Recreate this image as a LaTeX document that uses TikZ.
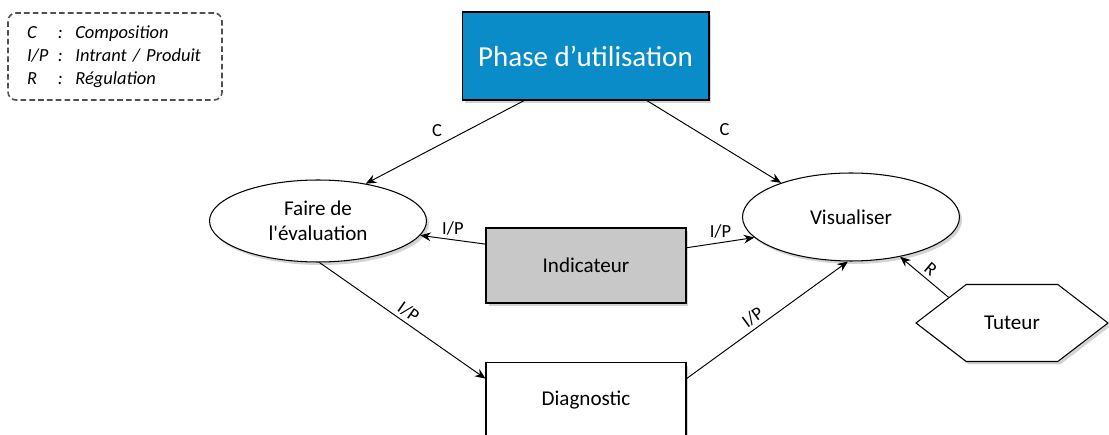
\documentclass[tikz,border=0pt]{standalone}
\usepackage{fontspec}
\setmainfont{Carlito}
\usetikzlibrary{arrows.meta,shapes.geometric,shapes.symbols,shadows}
\definecolor{phaseblue}{RGB}{10,140,201}
\definecolor{indgray}{RGB}{200,200,200}
\definecolor{legendgray}{RGB}{80,80,80}

\tikzset{
  shade/.style={drop shadow={opacity=0.35,shadow xshift=0.5mm,shadow yshift=-0.6mm}},
  box/.style={draw,line width=0.6pt,fill=white,shade,minimum width=4cm,minimum height=1.5cm,font=\fontsize{12}{14}\selectfont},
  oval/.style={ellipse,draw,line width=0.6pt,fill=white,shade,minimum width=4.34cm,inner sep=0pt,align=center,font=\fontsize{12}{14.5}\selectfont},
  hexa/.style={shape=signal,signal to=west and east,signal pointer angle=75,draw,line width=0.6pt,fill=white,shade,
    minimum width=3.84cm,minimum height=1.54cm,inner sep=0pt,font=\fontsize{12}{14}\selectfont},
  link/.style={-{Stealth[length=6pt,width=5pt,inset=2pt]},line width=0.55pt},
  lbl/.style={font=\fontsize{10.5}{12}\selectfont,inner sep=2pt}
}

\begin{document}
\begin{tikzpicture}[x=0.02cm,y=-0.02cm]
\useasboundingbox (0,0) rectangle (1109,435);

% legende
\node[draw=legendgray,line width=0.9pt,dash pattern=on 3.2pt off 1.8pt,rounded corners=4.5pt,
  minimum width=4.28cm,minimum height=1.74cm,inner xsep=0.38cm,text width=3.52cm,align=left,
  font=\fontsize{10.5}{13}\selectfont\itshape] (legende) at (115,56.5)
  {\makebox[17.5pt][l]{C}\makebox[10pt][l]{:}Composition\\
   \makebox[17.5pt][l]{I/P}\makebox[10pt][l]{:}Intrant / Produit\\
   \makebox[17.5pt][l]{R}\makebox[10pt][l]{:}Régulation};

% noeuds
\node[box,fill=phaseblue,text=white,minimum width=4.94cm,minimum height=1.76cm,font=\fontsize{16.5}{18}\selectfont] (phase) at (585.5,56) {Phase d’utilisation};
\node[oval,minimum height=1.64cm] (faire) at (318,221) {Faire de\\l\textquotesingle évaluation};
\node[oval,minimum height=1.76cm] (visu) at (851,217) {Visualiser};
\node[box,fill=indgray] (indic) at (586,265.5) {Indicateur};
\node[box] (diag) at (586,400) {Diagnostic};
\node[hexa] (tuteur) at (1012,323) {Tuteur};

% liens
\draw[link] (phase.216) -- node[lbl,pos=0.55,above=3pt] {C} (faire.38);
\draw[link] (phase.324) -- node[lbl,pos=0.5,above right=1pt] {C} (visu.154);
\draw[link] (indic.168) -- node[lbl,above] {I/P} (faire.-8);
\draw[link] (indic.10) -- node[lbl,above] {I/P} (visu.192);
\draw[link] (faire.-88) -- node[lbl,sloped,above] {I/P} (diag.168);
\draw[link] (diag.12) -- node[lbl,sloped,above,pos=0.45] {I/P} (visu.266);
\draw[link] (tuteur.158) -- node[lbl,sloped,above] {R} (visu.-39);
\end{tikzpicture}
\end{document}
